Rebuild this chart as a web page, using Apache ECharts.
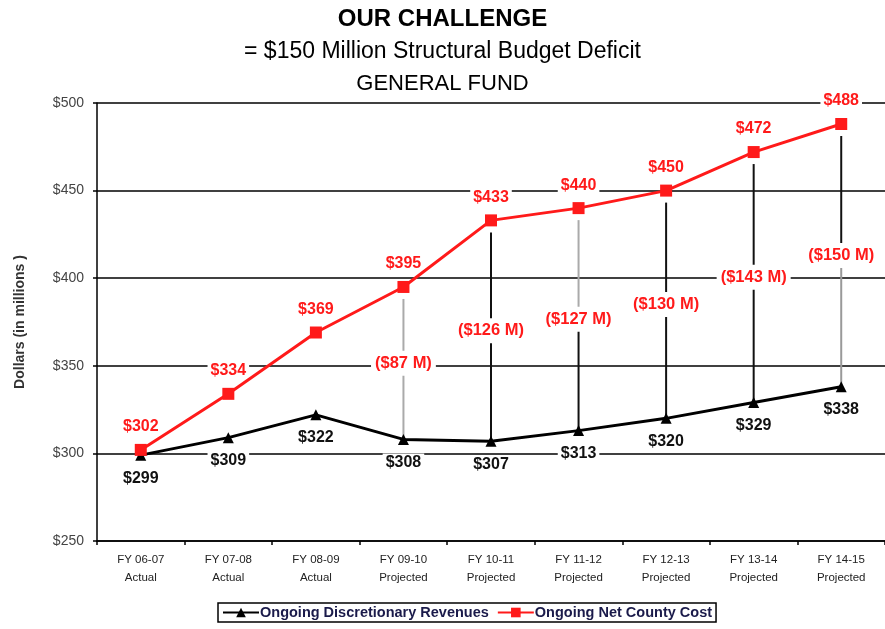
<!DOCTYPE html>
<html>
<head>
<meta charset="utf-8">
<title>Our Challenge - General Fund</title>
<script src="https://cdn.jsdelivr.net/npm/echarts@6/dist/echarts.min.js"></script>
<style>
  html, body { margin: 0; padding: 0; background: #fff; }
  #chart { width: 885px; height: 629px; }
</style>
</head>
<body>
<div id="chart"></div>
<script>
const categories = [
  "FY 06-07\nActual", "FY 07-08\nActual", "FY 08-09\nActual",
  "FY 09-10\nProjected", "FY 10-11\nProjected", "FY 11-12\nProjected",
  "FY 12-13\nProjected", "FY 13-14\nProjected", "FY 14-15\nProjected"
];
const revenues = [299, 309, 322, 308, 307, 313, 320, 329, 338];
const netCost = [302, 334, 369, 395, 433, 440, 450, 472, 488];
// gap bars are drawn from FY 09-10 onwards
const gapFrom = 3;
const yTicks = [250, 300, 350, 400, 450, 500];

const font = "Liberation Sans, Arial, sans-serif";
const red = "#ff1a1a";

// upper / lower segment colour of each gap line (some are grey in the original)
const gapUpper = ["#aaa", "#111", "#aaa", "#111", "#111", "#111"];
const gapLower = ["#aaa", "#111", "#111", "#111", "#111", "#999"];

const gapData = [];
for (let i = gapFrom; i < categories.length; i++) {
  gapData.push([i, revenues[i], netCost[i], netCost[i] - revenues[i]]);
}

// value labels are drawn under the lines (white box breaks the grid lines only)
function valueLabels(color, dy) {
  return function (params, api) {
    const p = api.coord([api.value(0), api.value(1)]);
    return {
      type: "text",
      x: p[0],
      y: p[1] + dy,
      style: {
        text: "$" + api.value(1),
        fill: color,
        font: "bold 16px " + font,
        align: "center",
        verticalAlign: "middle",
        backgroundColor: "#fff",
        padding: [1, 3]
      }
    };
  };
}

var myChart = echarts.init(document.getElementById("chart"));
var option = {
  animation: false,
  title: [
    {
      text: "OUR CHALLENGE", left: "center", top: 2,
      textStyle: { fontFamily: font, fontSize: 24, fontWeight: 900, color: "#000" }
    },
    {
      text: "= $150 Million Structural Budget Deficit", left: "center", top: 35,
      textStyle: { fontFamily: font, fontSize: 23, fontWeight: "normal", color: "#000" }
    },
    {
      text: "GENERAL FUND", left: "center", top: 68,
      textStyle: { fontFamily: font, fontSize: 22, fontWeight: "normal", color: "#000" }
    }
  ],
  legend: {
    data: ["Ongoing Discretionary Revenues", "Ongoing Net County Cost"],
    left: 218,
    top: 603,
    borderColor: "#000",
    borderWidth: 1.5,
    padding: [2, 4],
    itemGap: 8,
    itemWidth: 36,
    itemHeight: 12,
    textStyle: { fontFamily: font, fontSize: 14.5, fontWeight: "bold", color: "#1a1a4a", padding: [0, 0, 0, -4] }
  },
  grid: { left: 97, top: 103, width: 794, height: 438 },
  xAxis: {
    type: "category",
    data: categories,
    boundaryGap: true,
    axisLine: { lineStyle: { color: "#000", width: 1.5 } },
    axisTick: { show: true, length: 4, lineStyle: { color: "#000", width: 1.5 } },
    axisLabel: { fontFamily: font, fontSize: 11.5, color: "#222", lineHeight: 18, margin: 10, interval: 0 }
  },
  yAxis: {
    type: "value",
    min: yTicks[0],
    max: yTicks[yTicks.length - 1],
    interval: 50,
    name: "Dollars (in millions )",
    nameLocation: "middle",
    nameRotate: 90,
    nameGap: 70,
    nameTextStyle: { fontFamily: font, fontSize: 14, fontWeight: "bold", color: "#333" },
    axisLine: { show: true, lineStyle: { color: "#000", width: 1.5 } },
    axisTick: { show: true, length: 4, lineStyle: { color: "#000", width: 1.5 } },
    axisLabel: {
      fontFamily: font, fontSize: 14, color: "#444", margin: 13,
      formatter: (v) => "$" + v
    },
    splitLine: { show: true, lineStyle: { color: "#000", width: 1.5 } }
  },
  series: [
    {
      name: "gap",
      type: "custom",
      z: 1,
      silent: true,
      data: gapData,
      renderItem: function (params, api) {
        const i = api.value(0);
        const k = i - gapFrom;
        const top = api.coord([i, api.value(2)]);
        const bot = api.coord([i, api.value(1)]);
        const mid = (top[1] + bot[1]) / 2;
        return {
          type: "group",
          children: [
            {
              type: "line",
              shape: { x1: top[0], y1: top[1] + 12, x2: top[0], y2: mid },
              style: { stroke: gapUpper[k], lineWidth: 2 }
            },
            {
              type: "line",
              shape: { x1: top[0], y1: mid, x2: bot[0], y2: bot[1] },
              style: { stroke: gapLower[k], lineWidth: 2 }
            },
            {
              type: "text",
              x: top[0],
              y: mid,
              style: {
                text: "($" + api.value(3) + " M)",
                fill: red,
                font: "bold 16.5px " + font,
                align: "center",
                verticalAlign: "middle",
                backgroundColor: "#fff",
                padding: [4, 4]
              }
            }
          ]
        };
      }
    },
    {
      name: "revenueLabels",
      type: "custom",
      z: 2,
      silent: true,
      data: revenues.map((v, i) => [i, v]),
      renderItem: valueLabels("#111", 23)
    },
    {
      name: "costLabels",
      type: "custom",
      z: 2,
      silent: true,
      data: netCost.map((v, i) => [i, v]),
      renderItem: valueLabels(red, -23)
    },
    {
      name: "Ongoing Discretionary Revenues",
      type: "line",
      z: 3,
      data: revenues,
      symbol: "triangle",
      symbolSize: 11,
      itemStyle: { color: "#000" },
      lineStyle: { color: "#000", width: 3 }
    },
    {
      name: "Ongoing Net County Cost",
      type: "line",
      z: 4,
      data: netCost,
      symbol: "rect",
      symbolSize: 12,
      itemStyle: { color: red },
      lineStyle: { color: red, width: 3 }
    }
  ]
};
myChart.setOption(option, true);
window.addEventListener("resize", function () {
  myChart.resize();
});
</script>
</body>
</html>
